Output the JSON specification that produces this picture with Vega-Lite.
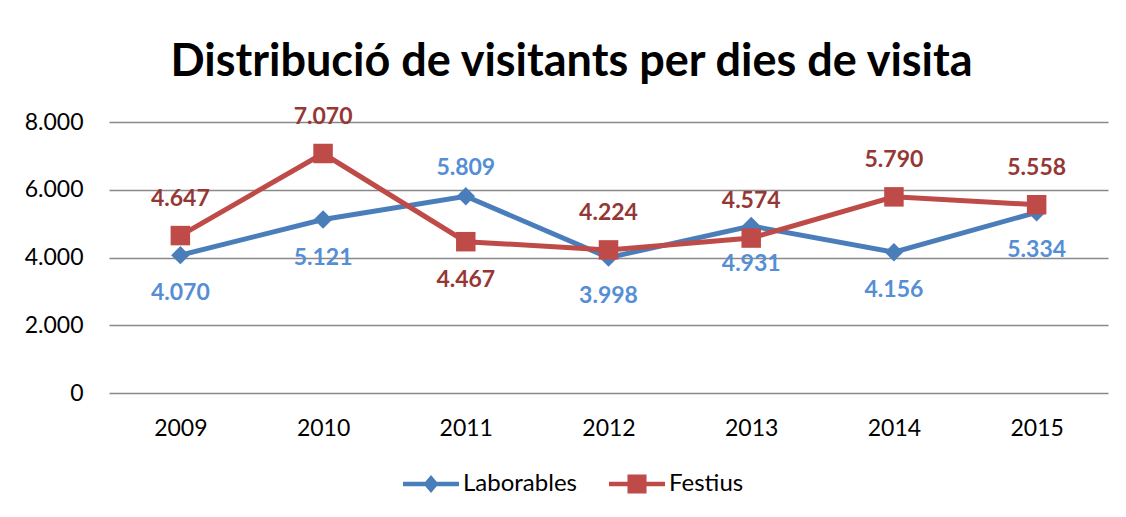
{
  "$schema": "https://vega.github.io/schema/vega-lite/v6.json",
  "width": 999,
  "height": 271,
  "autosize": "none",
  "padding": {"left": 109, "top": 122, "right": 18, "bottom": 124},
  "background": "white",
  "title": {
    "text": "Distribució de visitants per dies de visita",
    "font": "Lato",
    "fontSize": 45,
    "fontWeight": "bold",
    "color": "black",
    "anchor": "middle",
    "dx": -37,
    "offset": -15,
    "baseline": "alphabetic"
  },
  "config": {
    "locale": {"number": {"decimal": ",", "thousands": ".", "grouping": [3], "currency": ["", " €"]}},
    "view": {"stroke": null},
    "font": "Lato",
    "legend": {
      "padding": 0,
      "symbolStrokeWidth": 0,
      "symbolSize": 3136,
      "labelFont": "Lato",
      "labelFontSize": 24,
      "labelColor": "black",
      "labelOffset": 4,
      "columnPadding": 32
    }
  },
  "data": {
    "values": [
      {"year": 2009, "series": "Laborables", "value": 4070},
      {"year": 2010, "series": "Laborables", "value": 5121},
      {"year": 2011, "series": "Laborables", "value": 5809},
      {"year": 2012, "series": "Laborables", "value": 3998},
      {"year": 2013, "series": "Laborables", "value": 4931},
      {"year": 2014, "series": "Laborables", "value": 4156},
      {"year": 2015, "series": "Laborables", "value": 5334},
      {"year": 2009, "series": "Festius", "value": 4647},
      {"year": 2010, "series": "Festius", "value": 7070},
      {"year": 2011, "series": "Festius", "value": 4467},
      {"year": 2012, "series": "Festius", "value": 4224},
      {"year": 2013, "series": "Festius", "value": 4574},
      {"year": 2014, "series": "Festius", "value": 5790},
      {"year": 2015, "series": "Festius", "value": 5558}
    ]
  },
  "encoding": {
    "x": {
      "field": "year",
      "type": "ordinal",
      "scale": {"type": "point", "padding": 0.5},
      "axis": {
        "title": null,
        "labelAngle": 0,
        "domain": false,
        "ticks": false,
        "labelFont": "Lato",
        "labelFontSize": 23,
        "labelColor": "black",
        "labelPadding": 24
      }
    },
    "y": {
      "field": "value",
      "type": "quantitative",
      "scale": {"domain": [0, 8000]},
      "axis": {
        "title": null,
        "values": [0, 2000, 4000, 6000, 8000],
        "format": ",d",
        "domain": false,
        "ticks": false,
        "gridColor": "#898989",
        "gridWidth": 1.5,
        "labelFont": "Lato",
        "labelFontSize": 23,
        "labelColor": "black",
        "labelPadding": 26
      }
    }
  },
  "layer": [
    {
      "mark": {"type": "line", "strokeWidth": 5},
      "encoding": {
        "detail": {"field": "series", "type": "nominal"},
        "color": {"condition": {"test": "datum.series === 'Laborables'", "value": "#4A7EBB"}, "value": "#BE4B48"}
      }
    },
    {
      "mark": {"type": "point", "filled": true, "opacity": 1},
      "encoding": {
        "color": {"condition": {"test": "datum.series === 'Laborables'", "value": "#4A7EBB"}, "value": "#BE4B48"},
        "size": {"condition": {"test": "datum.series === 'Laborables'", "value": 340}, "value": 380},
        "shape": {"condition": {"test": "datum.series === 'Laborables'", "value": "diamond"}, "value": "square"}
      }
    },
    {
      "transform": [{"filter": "false"}],
      "mark": {"type": "point", "filled": true, "opacity": 1, "size": 3136, "strokeWidth": 0},
      "encoding": {
        "color": {
          "field": "series",
          "type": "nominal",
          "scale": {"domain": ["Laborables", "Festius"], "range": ["#4A7EBB", "#BE4B48"]},
          "legend": {"orient": "none", "legendX": 294, "legendY": 334, "direction": "horizontal", "title": null}
        },
        "shape": {
          "field": "series",
          "type": "nominal",
          "scale": {
            "domain": ["Laborables", "Festius"],
            "range": [
              "M-1,-0.08H1V0.08H-1Z M-0.27,0L0,-0.32L0.27,0L0,0.32Z",
              "M-1,-0.08H1V0.08H-1Z M-0.34,-0.34H0.34V0.34H-0.34Z"
            ]
          },
          "legend": {"orient": "none", "legendX": 294, "legendY": 334, "direction": "horizontal", "title": null}
        }
      }
    },
    {
      "transform": [{"filter": "(datum.series === 'Laborables' && datum.year !== 2011) || (datum.series === 'Festius' && datum.year === 2011)"}],
      "mark": {"type": "text", "font": "Lato", "fontSize": 23, "fontWeight": "bold", "dy": 38},
      "encoding": {
        "text": {"field": "value", "type": "quantitative", "format": ",d"},
        "color": {"condition": {"test": "datum.series === 'Laborables'", "value": "#558ED5"}, "value": "#953735"}
      }
    },
    {
      "transform": [{"filter": "datum.series === 'Festius' && datum.year !== 2011"}],
      "mark": {"type": "text", "font": "Lato", "fontSize": 23, "fontWeight": "bold", "dy": -37},
      "encoding": {
        "text": {"field": "value", "type": "quantitative", "format": ",d"},
        "color": {"value": "#953735"}
      }
    },
    {
      "transform": [{"filter": "datum.series === 'Laborables' && datum.year === 2011"}],
      "mark": {"type": "text", "font": "Lato", "fontSize": 23, "fontWeight": "bold", "dy": -28},
      "encoding": {
        "text": {"field": "value", "type": "quantitative", "format": ",d"},
        "color": {"value": "#558ED5"}
      }
    }
  ]
}
